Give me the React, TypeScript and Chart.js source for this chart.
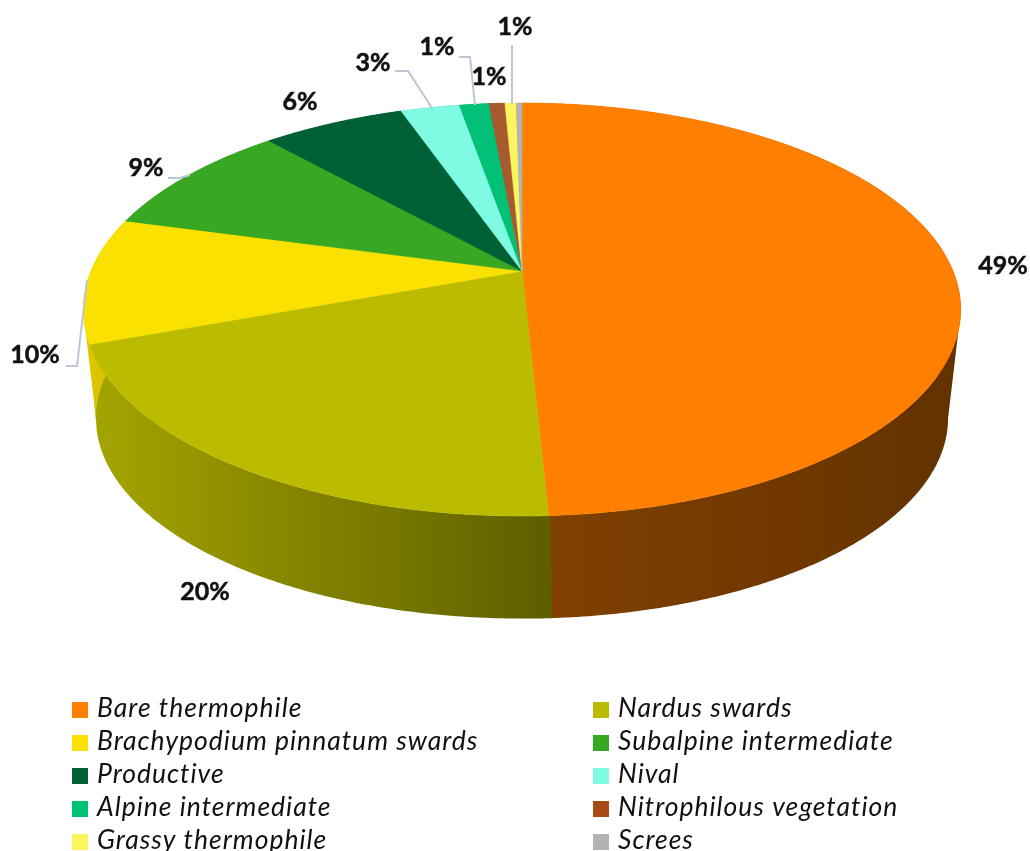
import React, { useEffect, useRef } from "react";
import { Chart, registerables } from "chart.js";

Chart.register(...registerables);

const categories = [
  "Bare thermophile",
  "Nardus swards",
  "Brachypodium pinnatum swards",
  "Subalpine intermediate",
  "Productive",
  "Nival",
  "Alpine intermediate",
  "Nitrophilous vegetation",
  "Grassy thermophile",
  "Screes",
];
const shares = [49.2, 20.2, 9.85, 9.1, 6.3, 2.6, 1.3, 0.7, 0.5, 0.25];
const shareLabels = ["49%", "20%", "10%", "9%", "6%", "3%", "1%", "1%", "1%", "1%"];
const sliceColors = ["#FF8000", "#BBBC00", "#FAE100", "#38A823", "#006035", "#7FFAE3", "#00C176", "#A85A2E", "#FBF65E", "#B3B3B3"];
const legendColors = ["#FF8000", "#BBBC00", "#FAE100", "#38A823", "#006035", "#7FFAE3", "#00C176", "#A84A14", "#FBF65E", "#B3B3B3"];

// Layout of the 3D projection and of the annotations (not data)
const PIE = { cx: 522, cy: 271, a: 431, b: 199.3, p: 0.1864 };
const BASE = { a: 409, b: 184.6, p: 0.28, cy: 362.2 };
const labelCenters: [number, number][] = [
  [1003, 266], [205, 592], [35, 355], [146, 168], [300, 102], [373, 63], [437, 47], [489, 77], [515, 27],
];
const labelOrder = [0, 1, 2, 3, 4, 5, 6, 7, 8];
const leaderLines: [number, number][][] = [
  [[66, 366], [77, 366], [87, 280]],
  [[168, 178], [180, 178], [190, 175]],
  [[395, 71], [408, 71], [432, 108]],
  [[459, 57], [470, 57], [475, 105]],
  [[512, 45], [512, 104]],
];
const FONT = "Lato, Carlito, 'Open Sans', sans-serif";

function top(a: number) {
  const u = Math.cos(a), v = Math.sin(a), d = 1 - PIE.p * v;
  return [PIE.cx + (PIE.a * u) / d, PIE.cy + (PIE.b * v) / d];
}
function bottom(a: number) {
  const u = Math.cos(a), v = Math.sin(a), d = 1 - BASE.p * v;
  return [PIE.cx + (BASE.a * u) / d, BASE.cy + (BASE.b * v) / d];
}
function rgb(hex: string, k: number) {
  const n = parseInt(hex.slice(1), 16);
  return `rgb(${Math.round(((n >> 16) & 255) * k)},${Math.round(((n >> 8) & 255) * k)},${Math.round((n & 255) * k)})`;
}

const pie3d = {
  id: "pie3d",
  beforeDatasetsDraw(chart: any) {
    const ctx: CanvasRenderingContext2D = chart.ctx;
    const arcs = chart.getDatasetMeta(0).data;
    ctx.save();
    // side wall: one path of equally wound quads, so no seams and no cancelling
    arcs.forEach((arc: any, i: number) => {
      const s = arc.startAngle - 0.003;
      const e = arc.endAngle + 0.003;
      const n = Math.max(4, Math.ceil((e - s) / 0.01));
      const g = ctx.createLinearGradient(90, 0, 960, 0);
      g.addColorStop(0, rgb(sliceColors[i], 0.88));
      g.addColorStop(0.528, rgb(sliceColors[i], 0.5));
      g.addColorStop(1, rgb(sliceColors[i], 0.39));
      ctx.fillStyle = g;
      ctx.beginPath();
      for (let k = 0; k < n; k++) {
        const a0 = s + ((e - s) * k) / n;
        const a1 = s + ((e - s) * (k + 1)) / n;
        const p = [top(a0), top(a1), bottom(a1), bottom(a0)];
        let area = 0;
        p.forEach((q, j) => {
          const r = p[(j + 1) % 4];
          area += q[0] * r[1] - r[0] * q[1];
        });
        if (area < 0) p.reverse();
        p.forEach((q, j) => (j ? ctx.lineTo(q[0], q[1]) : ctx.moveTo(q[0], q[1])));
        ctx.closePath();
      }
      ctx.fill("nonzero");
    });
    // top face
    arcs.forEach((arc: any, i: number) => {
      const n = Math.max(4, Math.ceil((arc.endAngle - arc.startAngle) / 0.01));
      ctx.fillStyle = sliceColors[i];
      ctx.strokeStyle = sliceColors[i];
      ctx.lineWidth = 0.6;
      ctx.beginPath();
      ctx.moveTo(PIE.cx, PIE.cy);
      for (let k = 0; k <= n; k++) {
        const p = top(arc.startAngle + ((arc.endAngle - arc.startAngle) * k) / n);
        ctx.lineTo(p[0], p[1]);
      }
      ctx.closePath();
      ctx.fill();
      ctx.stroke();
    });
    // leader lines
    ctx.strokeStyle = "#BCC6D8";
    ctx.lineWidth = 2;
    leaderLines.forEach((line) => {
      ctx.beginPath();
      line.forEach((p, k) => (k ? ctx.lineTo(p[0], p[1]) : ctx.moveTo(p[0], p[1])));
      ctx.stroke();
    });
    // percent labels
    ctx.fillStyle = "#111";
    ctx.strokeStyle = "#111";
    ctx.lineWidth = 0.5;
    ctx.font = `bold 25px ${FONT}`;
    ctx.textAlign = "center";
    ctx.textBaseline = "middle";
    labelOrder.forEach((i, k) => {
      ctx.fillText(shareLabels[i], labelCenters[k][0], labelCenters[k][1]);
      ctx.strokeText(shareLabels[i], labelCenters[k][0], labelCenters[k][1]);
    });
    // legend
    ctx.font = `italic 26.5px ${FONT}`;
    ctx.textAlign = "left";
    ctx.textBaseline = "alphabetic";
    (ctx as any).letterSpacing = "1px";
    categories.forEach((name, i) => {
      const col = i % 2, row = (i - col) / 2;
      const x = col ? 593 : 72;
      const y = 702 + row * 33;
      ctx.fillStyle = legendColors[i];
      ctx.fillRect(x, y, 16, 16);
      ctx.fillStyle = "#111";
      ctx.fillText(name, x + 25, y + 15);
    });
    ctx.restore();
    return false;
  },
};

export default function App() {
  const ref = useRef<HTMLCanvasElement>(null);
  useEffect(() => {
    document.body.style.margin = "0";
    const chart = new Chart(ref.current as HTMLCanvasElement, {
      type: "pie",
      data: {
        labels: categories,
        datasets: [{ data: shares, backgroundColor: sliceColors, borderWidth: 0 }],
      },
      options: {
        animation: false,
        responsive: false,
        plugins: { legend: { display: false }, tooltip: { enabled: false } },
      },
      plugins: [pie3d],
    } as any);
    return () => chart.destroy();
  }, []);
  return <canvas ref={ref} width={1030} height={851} style={{ display: "block" }} />;
}
